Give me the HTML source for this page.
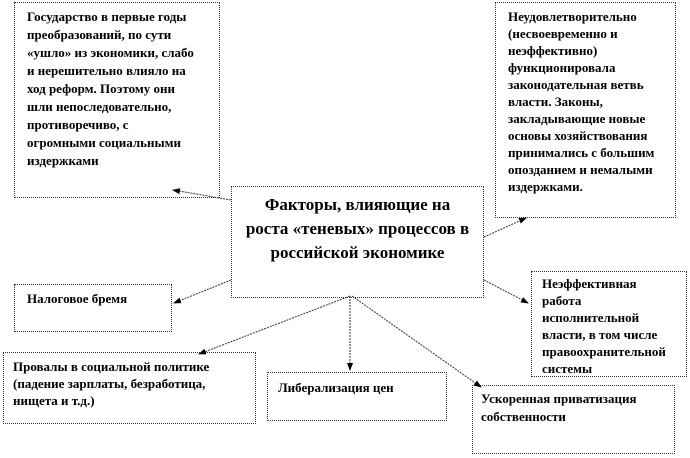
<!DOCTYPE html>
<html><head><meta charset="utf-8"><style>
body{margin:0;width:690px;height:458px;background:#fff;position:relative;overflow:hidden;font-family:"Liberation Serif","Noto Serif CJK SC",serif;font-weight:bold;color:#000}
.b{position:absolute;border:1px dotted #333;box-sizing:border-box;font-size:13px;line-height:18px;white-space:nowrap}
svg{position:absolute;left:0;top:0}
</style></head><body>
<div class="b" style="left:14px;top:2px;width:206px;height:196px;padding:5px 0 0 12px">Государство в первые годы<br>преобразований, по сути<br>«ушло» из экономики, слабо<br>и нерешительно влияло на<br>ход реформ. Поэтому они<br>шли непоследовательно,<br>противоречиво, с<br>огромными социальными<br>издержками</div>
<div class="b" style="left:495px;top:2px;width:181px;height:216px;padding:5px 0 0 12px;line-height:17px">Неудовлетворительно<br>(несвоевременно и<br>неэффективно)<br>функционировала<br>законодательная ветвь<br>власти. Законы,<br>закладывающие новые<br>основы хозяйствования<br>принимались с большим<br>опозданием и немалыми<br>издержками.</div>
<div class="b" style="left:231px;top:186px;width:253px;height:112px;padding:6px 0 0 0;text-align:center;font-size:17px;line-height:24px">Факторы, влияющие на<br>роста «теневых» процессов в<br>российской экономике</div>
<div class="b" style="left:14px;top:284px;width:158px;height:48px;padding:5px 0 0 12px">Налоговое бремя</div>
<div class="b" style="left:531px;top:271px;width:156px;height:106px;padding:3px 0 0 10px;line-height:17px;overflow:hidden">Неэффективная<br>работа<br>исполнительной<br>власти, в том числе<br>правоохранительной<br>системы</div>
<div class="b" style="left:3px;top:352px;width:253px;height:72px;padding:5px 0 0 9px;line-height:17px">Провалы в социальной политике<br>(падение зарплаты, безработица,<br>нищета и т.д.)</div>
<div class="b" style="left:267px;top:372px;width:180px;height:49px;padding:6px 0 0 10px">Либерализация цен</div>
<div class="b" style="left:472px;top:385px;width:203px;height:69px;padding:4px 0 0 8px">Ускоренная приватизация<br>собственности</div>
<svg width="690" height="458">
<defs><marker id="a" markerWidth="8" markerHeight="8" refX="7" refY="4" orient="auto"><path d="M0,1 L8,4 L0,7z" fill="#000"/></marker></defs>
<g stroke="#333" stroke-width="1" stroke-dasharray="2,1" fill="none" marker-end="url(#a)">
<line x1="231" y1="200" x2="173" y2="190"/>
<line x1="484" y1="237" x2="526" y2="218"/>
<line x1="231" y1="280" x2="174" y2="303"/>
<line x1="350" y1="296" x2="199" y2="354"/>
<line x1="350" y1="296" x2="350" y2="370"/>
<line x1="352" y1="296" x2="481" y2="387"/>
<line x1="484" y1="280" x2="528" y2="303"/>
</g></svg>
</body></html>
